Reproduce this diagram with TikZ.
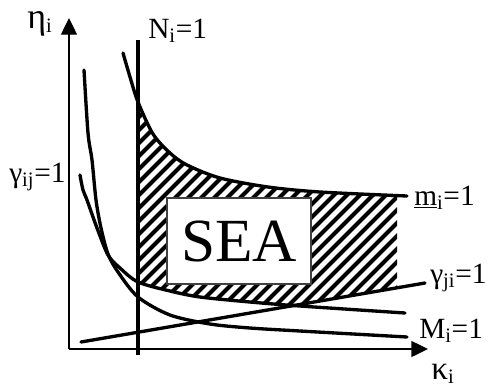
\documentclass[tikz,border=0pt]{standalone}
\usepackage{fontspec}
\setmainfont{Liberation Serif}
\usetikzlibrary{arrows.meta}
\begin{document}
\begin{tikzpicture}[x=0.75pt,y=-0.75pt,
  curve/.style={line width=2.5pt, line cap=round},
  axis/.style={line width=1pt},
  stripe/.style={line width=3pt},
  lbl/.style={font=\fontsize{22}{26}\selectfont, inner sep=0pt, anchor=base west},
  seabox/.style={draw=black!75, line width=0.8pt, fill=white, minimum width=108pt, minimum height=64.5pt, inner sep=0pt, font=\fontsize{46}{50}\selectfont}]
\useasboundingbox (0,0) rectangle (492,387);
% hatched region
\begin{scope}
  \clip plot[smooth] coordinates {(123,53) (130,77) (138,102) (153,134) (170,153) (187,165) (220,178) (268,187) (320,192) (407,196)} -- (407,400) -- (123,400) -- cycle;
  \clip (138,0) rectangle (397,400);
  \clip plot[smooth] coordinates {(80,175) (83,190) (87,200) (97,228) (108,255) (120,268) (138,282) (170,291) (200,297) (250,302) (300,306) (405,313)} -- (405,0) -- (80,0) -- cycle;
  \clip (81,342) -- (425,283) -- (425,0) -- (81,0) -- cycle;
  \foreach \a in {-300,-287,...,420} \draw[stripe] (\a,400) -- ++(400,-400);
\end{scope}
% SEA box
\node[seabox] (sea) at (239,241) {SEA};
% axes
\coordinate (o) at (69,349);
\coordinate (ytip) at (69,18);
\coordinate (xtip) at (428,349);
\draw[axis, -{Triangle[length=12.5pt, width=12pt]}] (o) -- (ytip);
\draw[axis, -{Triangle[length=12.5pt, width=12pt]}] (o) -- (xtip);
% N line
\coordinate (ntop) at (138,40);
\coordinate (nbot) at (138,355);
\draw[curve, line cap=butt] (ntop) -- (nbot);
% m curve
\draw[curve] plot[smooth] coordinates {(123,53) (130,77) (138,102) (153,134) (170,153) (187,165) (220,178) (268,187) (320,192) (407,196)};
% curve B
\draw[curve] plot[smooth] coordinates {(80,175) (83,190) (87,200) (97,228) (108,255) (120,268) (138,282) (170,291) (200,297) (250,302) (300,306) (405,313)};
% curve A (M)
\draw[curve] plot[smooth] coordinates {(84,70) (88,133) (92,160) (96,200) (101,228) (108,254) (118,272) (138,297) (170,315) (210,324) (250,328) (300,331) (407,337)};
% gamma_ji line
\coordinate (g1) at (81,342);
\coordinate (g2) at (425,283);
\draw[curve] (g1) -- (g2);
% labels
\node[lbl] (eta) at (27,28) {{\fontsize{27}{30}\selectfont η}\textsubscript{i}};
\node[lbl] (nlab) at (148,38) {N\textsubscript{i}=1};
\node[lbl] (gij) at (9,182) {γ\textsubscript{ij}=1};
\node[lbl] (mlab) at (414,205) {\underline{m}\textsubscript{i}=1};
\node[lbl] (gji) at (430,283) {γ\textsubscript{ji}=1};
\node[lbl] (Mlab) at (419,338) {M\textsubscript{i}=1};
\node[lbl] (kap) at (431,379) {{\fontsize{25}{28}\selectfont κ}\textsubscript{i}};
\end{tikzpicture}
\end{document}
